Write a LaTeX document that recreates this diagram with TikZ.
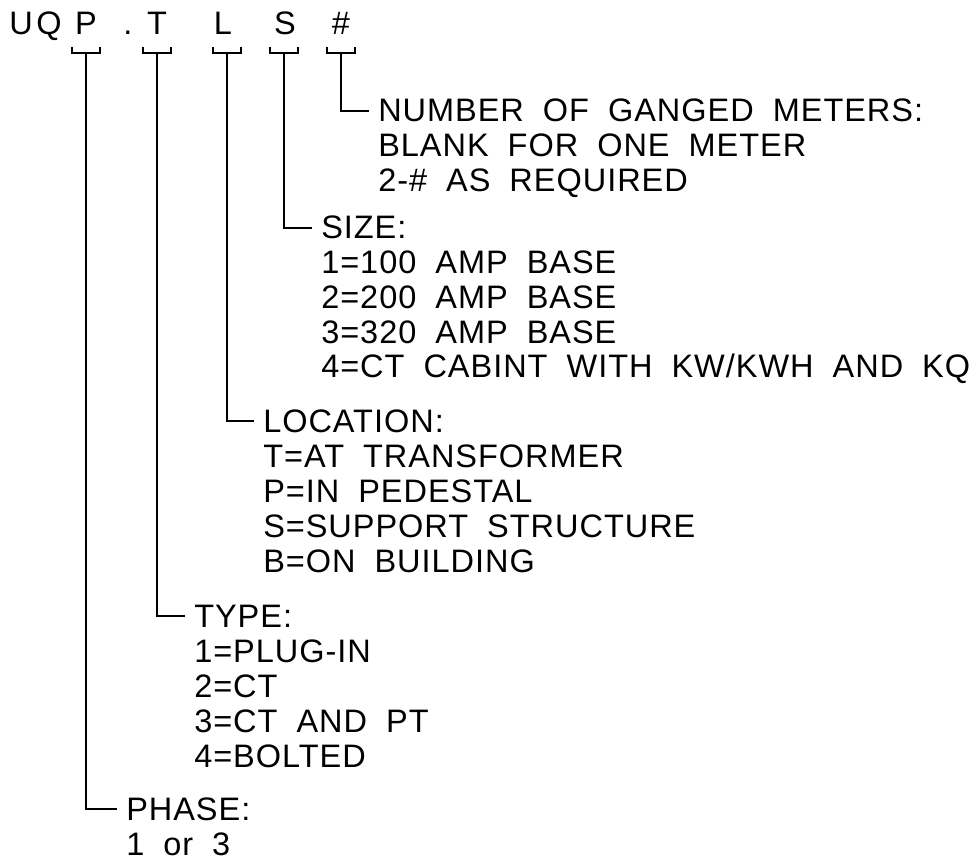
\documentclass[tikz,border=0pt]{standalone}
\usepackage{fontspec}
\setmainfont{Liberation Sans}[LetterSpace=3,WordSpace=1.9]

\begin{document}
\begin{tikzpicture}[x=1pt,y=-1pt,line width=2.5pt,
  every node/.style={inner sep=0pt,font=\fontsize{32.5}{35}\selectfont},
  codeletter/.style={anchor=base},
  heading/.style={anchor=base west},
  listline/.style={anchor=base west}]
\useasboundingbox (0,0) rectangle (980,861);

% code letters
\node (u) [codeletter] at (21,35) {U};
\node (q) [codeletter] at (49,35) {Q};
\node (p) [codeletter] at (86,35) {P};
\node (dot) [codeletter] at (128,35) {.};
\node (t) [codeletter] at (157,35) {T};
\node (l) [codeletter] at (223,35) {L};
\node (s) [codeletter] at (285,35) {S};
\node (num) [codeletter] at (341,35) {\#};

% brackets under the letters
\foreach \n/\x in {bp/86,bt/157,bl/227,bs/284,bn/341} {
  \draw (\x-14,47) |- (\x+14,53) -- (\x+14,47);
  \coordinate (\n) at (\x,53);
}

% headings
\node (numhd) [heading] at (377,122) {NUMBER OF GANGED METERS:};
\node (sizehd) [heading] at (320,239) {SIZE:};
\node (lochd) [heading] at (262,432) {LOCATION:};
\node (typehd) [heading] at (193,627) {TYPE:};
\node (phasehd) [heading] at (125,820) {PHASE:};

% lists
\foreach \t [count=\i] in {BLANK FOR ONE METER, 2-\# AS REQUIRED}
  \node (num\i) [listline] at (377,122+35*\i) {\t};
\foreach \t [count=\i] in {1=100 AMP BASE, 2=200 AMP BASE, 3=320 AMP BASE,
    4=CT CABINT WITH KW/KWH AND KQ}
  \node (size\i) [listline] at (320,239+34.7*\i) {\t};
\foreach \t [count=\i] in {T=AT TRANSFORMER, P=IN PEDESTAL,
    S=SUPPORT STRUCTURE, B=ON BUILDING}
  \node (loc\i) [listline] at (262,432+35*\i) {\t};
\foreach \t [count=\i] in {1=PLUG-IN, 2=CT, 3=CT AND PT, 4=BOLTED}
  \node (type\i) [listline] at (193,627+35*\i) {\t};
\node (phase1) [listline] at (125,855) {1 or 3};

\draw (bn) |- ([xshift=-8pt]numhd.west);
\draw (bs) |- ([xshift=-8pt]sizehd.west);
\draw (bl) |- ([xshift=-8pt]lochd.west);
\draw (bt) |- ([xshift=-8pt]typehd.west);
\draw (bp) |- ([xshift=-8pt]phasehd.west);
\end{tikzpicture}
\end{document}
